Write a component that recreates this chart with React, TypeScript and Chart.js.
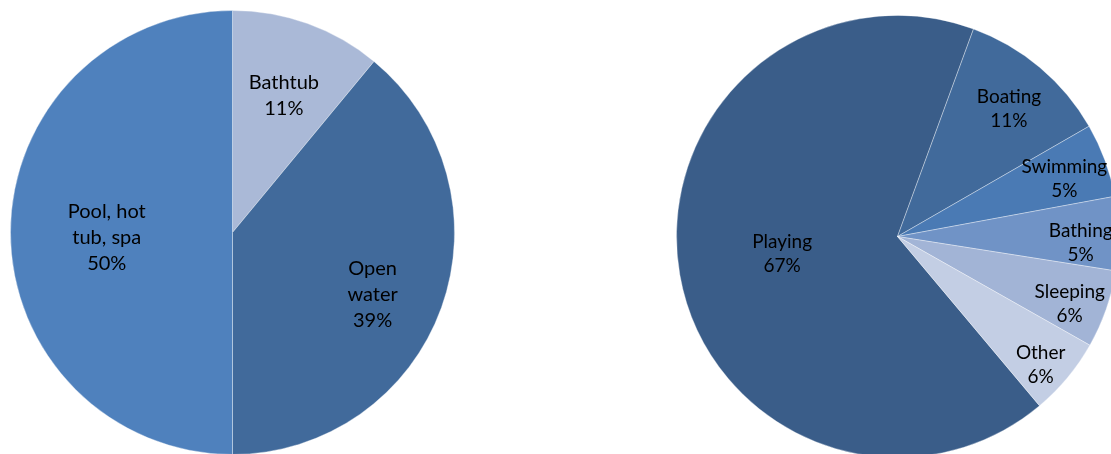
import React, { useEffect, useRef } from "react";
import { Chart, registerables } from "chart.js";

Chart.register(...registerables);

// Left pie: where drownings happened
const placeLabels: string[][] = [["Bathtub"], ["Open", "water"], ["Pool, hot", "tub, spa"]];
const placeValues: number[] = [11, 39, 50];
const placeColors: string[] = ["#AAB9D7", "#416A9B", "#4F81BD"];
const placeLabelRadius: number[] = [0.67, 0.69, 0.58];
const placeLabelShift: number[][] = [[1, 3], [-4, 10], [3, 5]];

// Right pie: activity at the time
const activityLabels: string[][] = [["Playing"], ["Boating"], ["Swimming"], ["Bathing"], ["Sleeping"], ["Other"]];
const activityValues: number[] = [66.7, 11.1, 5.4, 5.4, 5.7, 5.7];
const activityColors: string[] = ["#3A5D89", "#416A9B", "#4A7AB4", "#7093C6", "#A2B4D6", "#C3CEE4"];
const activityLabelRadius: number[] = [0.53, 0.79, 0.79, 0.82, 0.83, 0.86];
const activityLabelShift: number[][] = [[0, -3], [-1, 5.5], [3, 2.5], [2, 8.5], [-1, 7], [-3, 7]];

const labelPlugin = {
  id: "sliceLabels",
  afterDatasetsDraw(chart: any, _args: any, opts: any) {
    const ctx = chart.ctx;
    const meta = chart.getDatasetMeta(0);
    const ds = chart.data.datasets[0];
    const values: number[] = ds.data as number[];
    const total = values.reduce((a, b) => a + b, 0);
    const lines: string[][] = opts.lines;
    const radii: number[] = opts.radii;
    const shifts: number[][] = opts.shifts;
    ctx.save();
    ctx.font = `${opts.fontSize}px Lato, "Open Sans", sans-serif`;
    ctx.fillStyle = "#000";
    ctx.textAlign = "center";
    ctx.textBaseline = "middle";
    meta.data.forEach((arc: any, i: number) => {
      const p = arc.getProps(["x", "y", "startAngle", "endAngle", "outerRadius"], true);
      const mid = (p.startAngle + p.endAngle) / 2;
      const r = p.outerRadius * radii[i];
      const cx = p.x + Math.cos(mid) * r + shifts[i][0];
      const cy = p.y + Math.sin(mid) * r + shifts[i][1];
      const all = [...lines[i], Math.round((values[i] / total) * 100) + "%"];
      const lh = opts.lineHeight;
      const top = cy - ((all.length - 1) * lh) / 2;
      all.forEach((t, k) => ctx.fillText(t, cx, top + k * lh));
    });
    ctx.restore();
  },
};

function PieCanvas(props: {
  labels: string[][];
  values: number[];
  colors: string[];
  radii: number[];
  shifts: number[][];
  rotation: number;
  size: number;
  left: number;
  top: number;
  fontSize: number;
  lineHeight: number;
}) {
  const ref = useRef<HTMLCanvasElement | null>(null);
  useEffect(() => {
    if (!ref.current) return;
    const chart = new Chart(ref.current, {
      type: "pie",
      data: {
        labels: props.labels.map((l) => l.join(" ")),
        datasets: [
          {
            data: props.values,
            backgroundColor: props.colors,
            borderColor: "rgba(255,255,255,0.35)",
            borderWidth: 1,
          },
        ],
      },
      options: {
        responsive: false,
        animation: false,
        rotation: props.rotation,
        layout: { padding: 0 },
        plugins: {
          legend: { display: false },
          tooltip: { enabled: false },
          sliceLabels: {
            lines: props.labels,
            radii: props.radii,
            shifts: props.shifts,
            fontSize: props.fontSize,
            lineHeight: props.lineHeight,
          },
        } as any,
      },
      plugins: [labelPlugin],
    });
    return () => chart.destroy();
  }, []);
  return (
    <canvas
      ref={ref}
      width={props.size}
      height={props.size}
      style={{ position: "absolute", left: props.left, top: props.top, width: props.size, height: props.size }}
    />
  );
}

export default function App() {
  return (
    <div
      style={{
        position: "fixed",
        left: 0,
        top: 0,
        width: 1111,
        height: 454,
        overflow: "hidden",
        background: "#fff",
      }}
    >
      <PieCanvas
        labels={placeLabels}
        values={placeValues}
        colors={placeColors}
        radii={placeLabelRadius}
        shifts={placeLabelShift}
        rotation={0}
        size={445}
        left={10}
        top={10}
        fontSize={20}
        lineHeight={26}
      />
      <PieCanvas
        labels={activityLabels}
        values={activityValues}
        colors={activityColors}
        radii={activityLabelRadius}
        shifts={activityLabelShift}
        rotation={140}
        size={443}
        left={676}
        top={15}
        fontSize={19}
        lineHeight={24}
      />
    </div>
  );
}
